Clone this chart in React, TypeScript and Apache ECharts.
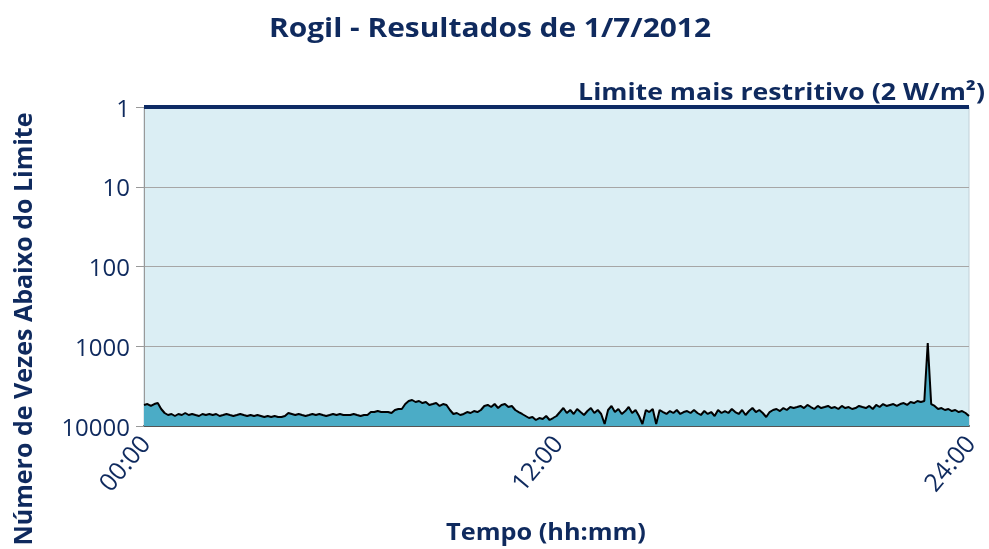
import React, { useEffect, useRef } from "react";
import * as echarts from "echarts";

const TITLE = "Rogil - Resultados de 1/7/2012";
const Y_NAME = "Número de Vezes Abaixo do Limite";
const X_NAME = "Tempo (hh:mm)";
const LIMIT_LABEL = "Limite mais restritivo (2 W/m²)";
const STEP_MINUTES = 6;
const X_TICKS = ["00:00", "12:00", "24:00"];
const Y_TICKS = [1, 10, 100, 1000, 10000];
const LIMIT_VALUE = 1;

const timesBelowLimit = [
  5450, 5300, 5610, 5300, 5150, 6120, 6870, 7280, 7070, 7490,
  7070, 7280, 6870, 7280, 7070, 7280, 7490, 7070, 7280, 7070,
  7280, 7070, 7490, 7280, 7070, 7280, 7490, 7280, 7070, 7280,
  7490, 7280, 7490, 7280, 7490, 7710, 7490, 7710, 7490, 7710,
  7710, 7490, 6870, 7070, 7280, 7070, 7280, 7490, 7280, 7070,
  7280, 7070, 7280, 7490, 7280, 7070, 7280, 7070, 7280, 7280,
  7280, 7070, 7280, 7490, 7280, 7280, 6680, 6680, 6490, 6680,
  6680, 6680, 6870, 6300, 6120, 6120, 5300, 4860, 4720, 5000,
  4860, 5150, 5000, 5450, 5300, 5150, 5610, 5300, 5450, 6300,
  7070, 6870, 7280, 7070, 6680, 6870, 6490, 6680, 6300, 5610,
  5450, 5780, 5300, 5950, 5450, 5300, 5780, 5610, 6300, 6680,
  7070, 7490, 7940, 7710, 8410, 7940, 8170, 7490, 8410, 7940,
  7490, 6680, 5950, 6870, 6300, 7070, 6120, 6680, 7280, 6490,
  5950, 6870, 6300, 7070, 9440, 6300, 5610, 6680, 6120, 7070,
  6490, 5780, 6870, 6300, 7490, 9440, 6300, 6680, 6120, 9440,
  6300, 6680, 7070, 6490, 6870, 6300, 7070, 6680, 6490, 6870,
  6300, 6870, 7280, 6490, 7070, 6680, 7490, 6300, 6870, 6490,
  6870, 6120, 6680, 7070, 6300, 7280, 6490, 5950, 6680, 6300,
  6870, 7710, 6680, 6300, 6120, 6490, 5950, 6300, 5780, 5950,
  5780, 5610, 5950, 5450, 5780, 6120, 5610, 5950, 5780, 5610,
  5950, 5780, 6120, 5610, 5950, 5780, 6120, 5950, 5610, 5780,
  5950, 5610, 6120, 5450, 5780, 5300, 5610, 5450, 5300, 5610,
  5300, 5150, 5450, 5000, 5150, 4860, 5000, 4860, 910, 5300,
  5610, 6120, 5950, 6300, 6120, 6490, 6300, 6680, 6490, 6870, 7490,
];

const NAVY = "#0f2a5e";
const FONT = "'Open Sans', 'Noto Sans', sans-serif";

export default function App() {
  const ref = useRef<HTMLDivElement>(null);
  useEffect(() => {
    if (!ref.current) return;
    const chart = echarts.init(ref.current, null, { renderer: "svg" });
    const data = timesBelowLimit.map((v, i) => [i * STEP_MINUTES, v]);
    chart.setOption({
      animation: false,
      textStyle: { fontFamily: FONT },
      grid: {
        left: 144,
        right: 20,
        top: 107,
        bottom: 123,
        show: true,
        backgroundColor: "#dbeef4",
        borderColor: "#c0d0d8",
        borderWidth: 1,
      },
      xAxis: {
        type: "value",
        min: 0,
        max: 1440,
        interval: 720,
        axisLine: { show: true, lineStyle: { color: "#555", width: 2 } },
        axisTick: { show: false },
        splitLine: { show: false },
        axisLabel: {
          rotate: 50,
          fontSize: 25,
          color: NAVY,
          margin: 12,
          formatter: (v: number) => X_TICKS[Math.round(v / 720)] ?? "",
        },
      },
      yAxis: {
        type: "log",
        logBase: 10,
        min: Y_TICKS[0],
        max: Y_TICKS[Y_TICKS.length - 1],
        inverse: true,
        axisLine: { show: true, lineStyle: { color: "#999", width: 1 } },
        axisTick: { show: true, length: 8, lineStyle: { color: "#999" } },
        splitLine: { show: true, lineStyle: { color: "#a6a6a6", width: 1 } },
        axisLabel: {
          fontSize: 24,
          color: NAVY,
          margin: 14,
          formatter: (v: number) => String(Math.round(v)),
        },
      },
      graphic: [
        {
          type: "text",
          x: 490,
          y: 27,
          scaleX: 1.15,
          style: {
            text: TITLE,
            fontFamily: FONT,
            fontSize: 26,
            fontWeight: "bold",
            fill: NAVY,
            textAlign: "center",
            textVerticalAlign: "middle",
          },
        },
        {
          type: "text",
          rotation: Math.PI / 2,
          x: 22,
          y: 329,
          style: {
            text: Y_NAME,
            fontFamily: FONT,
            fontSize: 25,
            fontWeight: "bold",
            fill: NAVY,
            textAlign: "center",
            textVerticalAlign: "middle",
          },
        },
        {
          type: "text",
          x: 546,
          y: 531,
          scaleX: 1.1,
          style: {
            text: X_NAME,
            fontFamily: FONT,
            fontSize: 23,
            fontWeight: "bold",
            fill: NAVY,
            textAlign: "center",
            textVerticalAlign: "middle",
          },
        },
        {
          type: "text",
          x: 985,
          y: 91,
          scaleX: 1.16,
          style: {
            text: LIMIT_LABEL,
            fontFamily: FONT,
            fontSize: 23,
            fontWeight: "bold",
            fill: NAVY,
            textAlign: "right",
            textVerticalAlign: "middle",
          },
        },
      ],
      series: [
        {
          type: "line",
          data,
          symbol: "none",
          lineStyle: { color: "#000", width: 2 },
          areaStyle: { color: "#4bacc6", opacity: 1, origin: "end" },
          z: 3,
          markLine: {
            silent: true,
            symbol: "none",
            label: { show: false },
            lineStyle: { color: "#0d2a64", width: 4, type: "solid" },
            data: [{ yAxis: LIMIT_VALUE }],
          },
        },
      ],
    });
    return () => chart.dispose();
  }, []);
  return (
    <div
      ref={ref}
      style={{ position: "fixed", left: 0, top: 0, width: 989, height: 549 }}
    />
  );
}
